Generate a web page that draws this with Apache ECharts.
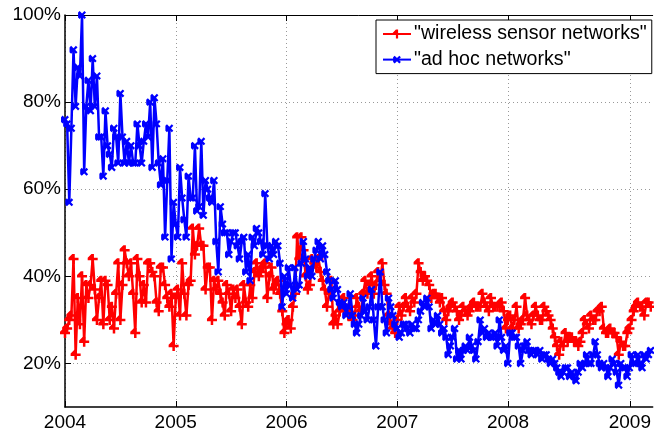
<!DOCTYPE html>
<html>
<head>
<meta charset="utf-8">
<script src="https://cdn.jsdelivr.net/npm/echarts@6/dist/echarts.min.js"></script>
<style>
html,body{margin:0;padding:0;background:#fff;}
#chart{width:654px;height:432px;}
</style>
</head>
<body>
<div id="chart"></div>
<script>
// Weekly share (%) starting at the first week of 2004
const seriesNames = ['"wireless sensor networks"', '"ad hoc networks"'];
const startYear = 2004;
const weeksPerYear = 52;

const wirelessSensor = [
  27, 28, 30, 31, 44, 22, 35, 29, 40, 25,
  38, 35, 38, 44, 37, 30, 35, 39, 29, 39,
  38, 30, 33, 28, 36, 43, 30, 38, 46, 43,
  40, 43, 36, 27, 44, 40, 34, 38, 34, 43,
  43, 41, 40, 34, 32, 42, 42, 38, 35, 33,
  36, 24, 35, 37, 31, 43, 36, 31, 38, 39,
  51, 45, 47, 51, 47, 47, 37, 42, 42, 30,
  39, 37, 39, 36, 34, 31, 38, 36, 32, 37,
  35, 37, 33, 29, 38, 34, 33, 38, 35, 41,
  43, 40, 41, 42, 43, 35, 40, 42, 37, 38,
  39, 36, 32, 27, 29, 30, 28, 33, 36, 49,
  44, 49, 46, 40, 37, 38, 44, 43, 42, 44,
  41, 39, 37, 33, 36, 39, 29, 31, 29, 32,
  33, 35, 32, 31, 33, 30, 31, 35, 33, 32,
  36, 39, 36, 38, 40, 36, 38, 41, 39, 43,
  38, 36, 31, 29, 28, 27, 30, 33, 31, 33,
  35, 33, 32, 35, 34, 36, 43, 41, 39, 40,
  39, 38, 35, 36, 36, 35, 34, 35, 32, 30,
  32, 33, 34, 33, 32, 30, 31, 33, 32, 31,
  32, 33, 34, 33, 33, 33, 36, 34, 33, 32,
  35, 33, 33, 33, 33, 34, 32, 28, 30, 31,
  28, 30, 33, 28, 29, 30, 35, 31, 30, 29,
  31, 33, 31, 30, 30, 33, 32, 31, 30, 28,
  26, 24, 22, 25, 24, 27, 25, 26, 26, 25,
  25, 24, 25, 27, 30, 29, 28, 31, 30, 30,
  32, 32, 33, 28, 27, 27, 28, 27, 27, 26,
  22, 25, 24, 24, 27, 28, 30, 32, 33, 34,
  33, 33, 31, 34, 34, 33
];

const adHoc = [
  76, 75, 57, 74, 92, 79, 88, 86, 100, 64,
  79, 85, 78, 90, 79, 86, 72, 72, 63, 78,
  70, 68, 65, 74, 72, 66, 82, 72, 66, 71,
  66, 70, 66, 66, 75, 70, 66, 71, 75, 72,
  80, 65, 81, 75, 66, 61, 67, 49, 62, 74,
  44, 57, 52, 49, 65, 58, 53, 49, 63, 58,
  58, 70, 55, 56, 71, 54, 62, 60, 58, 57,
  62, 48, 41, 56, 52, 50, 50, 45, 48, 50,
  50, 47, 44, 48, 49, 41, 45, 39, 49, 47,
  51, 50, 48, 45, 59, 47, 44, 47, 45, 48,
  47, 43, 33, 40, 36, 42, 38, 35, 42, 37,
  38, 43, 48, 44, 40, 42, 40, 44, 46, 48,
  44, 47, 45, 41, 39, 37, 35, 39, 37, 34,
  33, 34, 31, 33, 36, 31, 29, 27, 29, 31,
  35, 32, 30, 33, 37, 30, 24, 33, 41, 33,
  30, 27, 35, 33, 31, 29, 28, 26, 27, 29,
  29, 28, 27, 29, 28, 28, 30, 32, 34, 33,
  35, 33, 28, 30, 29, 31, 29, 27, 28, 26,
  22, 24, 26, 28, 21, 23, 21, 23, 24, 23,
  26, 24, 23, 21, 25, 30, 27, 28, 26, 27,
  26, 26, 27, 24, 30, 26, 23, 24, 20, 27,
  27, 26, 26, 24, 20, 23, 24, 25, 23, 22,
  23, 23, 22, 23, 21, 22, 22, 21, 20, 21,
  20, 19, 18, 17, 18, 19, 19, 17, 18, 17,
  16, 18, 20, 19, 20, 22, 20, 20, 22, 25,
  22, 20, 19, 20, 19, 17, 19, 21, 20, 18,
  15, 20, 19, 19, 17, 19, 22, 20, 20, 22,
  20, 19, 22, 21, 22, 23
];

const yTickValues = [20, 40, 60, 80, 100];
const xTickLabels = ['2004', '2005', '2006', '2007', '2008', '2009'];
const xTickValues = [2004, 2005, 2006, 2007, 2008, 2009.1];

function toPoints(arr) {
  return arr.map((v, i) => [startYear + i / weeksPerYear, v]);
}

const plusPath = 'path://M-1.25,-5H1.25V-1.25H5V1.25H1.25V5H-1.25V1.25H-5V-1.25Z';

const chart = echarts.init(document.getElementById('chart'), null, {renderer: 'canvas'});
const fontFamily = '"Liberation Sans", Arial, Helvetica, sans-serif';

chart.setOption({
  animation: false,
  backgroundColor: '#fff',
  grid: {left: 65, top: 15, right: 0, bottom: 24, containLabel: false},
  legend: {
    data: seriesNames,
    orient: 'vertical',
    left: 376,
    top: 20,
    padding: [3, 5, 3, 6],
    itemWidth: 28,
    itemHeight: 11,
    itemGap: 3.6,
    borderColor: '#000',
    borderWidth: 1,
    backgroundColor: '#fff',
    borderRadius: 0,
    textStyle: {fontSize: 19.6, lineHeight: 22, color: '#000', fontFamily: fontFamily, padding: [0, 0, 0, -2]}
  },
  xAxis: [{
    type: 'value',
    min: 2004,
    max: 2009.306,
    position: 'bottom',
    axisLine: {show: true, onZero: false, lineStyle: {color: '#000', width: 1.5}},
    axisTick: {show: true, inside: true, length: 6, customValues: xTickValues, lineStyle: {color: '#000', width: 1}},
    axisLabel: {
      show: true,
      customValues: xTickValues,
      margin: 6,
      fontSize: 19,
      color: '#000',
      fontFamily: fontFamily,
      formatter: function (v) {
        let best = 0, d = Infinity;
        xTickValues.forEach((t, k) => { if (Math.abs(t - v) < d) { d = Math.abs(t - v); best = k; } });
        return xTickLabels[best];
      }
    },
    splitLine: {show: true, lineStyle: {color: '#999', type: [1, 3], width: 1}}
  }, {
    type: 'value',
    min: 2004,
    max: 2009.306,
    position: 'top',
    axisLine: {show: true, onZero: false, lineStyle: {color: '#000', width: 1}},
    axisTick: {show: true, inside: true, length: 6, customValues: xTickValues, lineStyle: {color: '#000', width: 1}},
    axisLabel: {show: false},
    splitLine: {show: false}
  }],
  yAxis: {
    type: 'value',
    min: 10,
    max: 100,
    axisLine: {show: true, onZero: false, lineStyle: {color: '#000', width: 1.5}},
    axisTick: {show: true, inside: true, length: 6, customValues: yTickValues, lineStyle: {color: '#000', width: 1}},
    axisLabel: {
      show: true,
      customValues: yTickValues,
      margin: 4,
      fontSize: 19,
      color: '#000',
      fontFamily: fontFamily,
      formatter: '{value}%'
    },
    splitLine: {show: true, lineStyle: {color: '#999', type: [1, 3], width: 1}}
  },
  series: [{
    name: seriesNames[0],
    type: 'line',
    data: toPoints(wirelessSensor),
    symbol: plusPath,
    symbolSize: 10,
    showAllSymbol: true,
    lineStyle: {color: '#ff0000', width: 2.5},
    itemStyle: {color: '#ff0000'},
    emphasis: {disabled: true},
    z: 2
  }, {
    name: seriesNames[1],
    type: 'line',
    data: toPoints(adHoc),
    symbol: plusPath,
    symbolRotate: 45,
    symbolSize: 9,
    showAllSymbol: true,
    lineStyle: {color: '#0000ff', width: 2.5},
    itemStyle: {color: '#0000ff'},
    emphasis: {disabled: true},
    z: 3
  }]
});
</script>
</body>
</html>
